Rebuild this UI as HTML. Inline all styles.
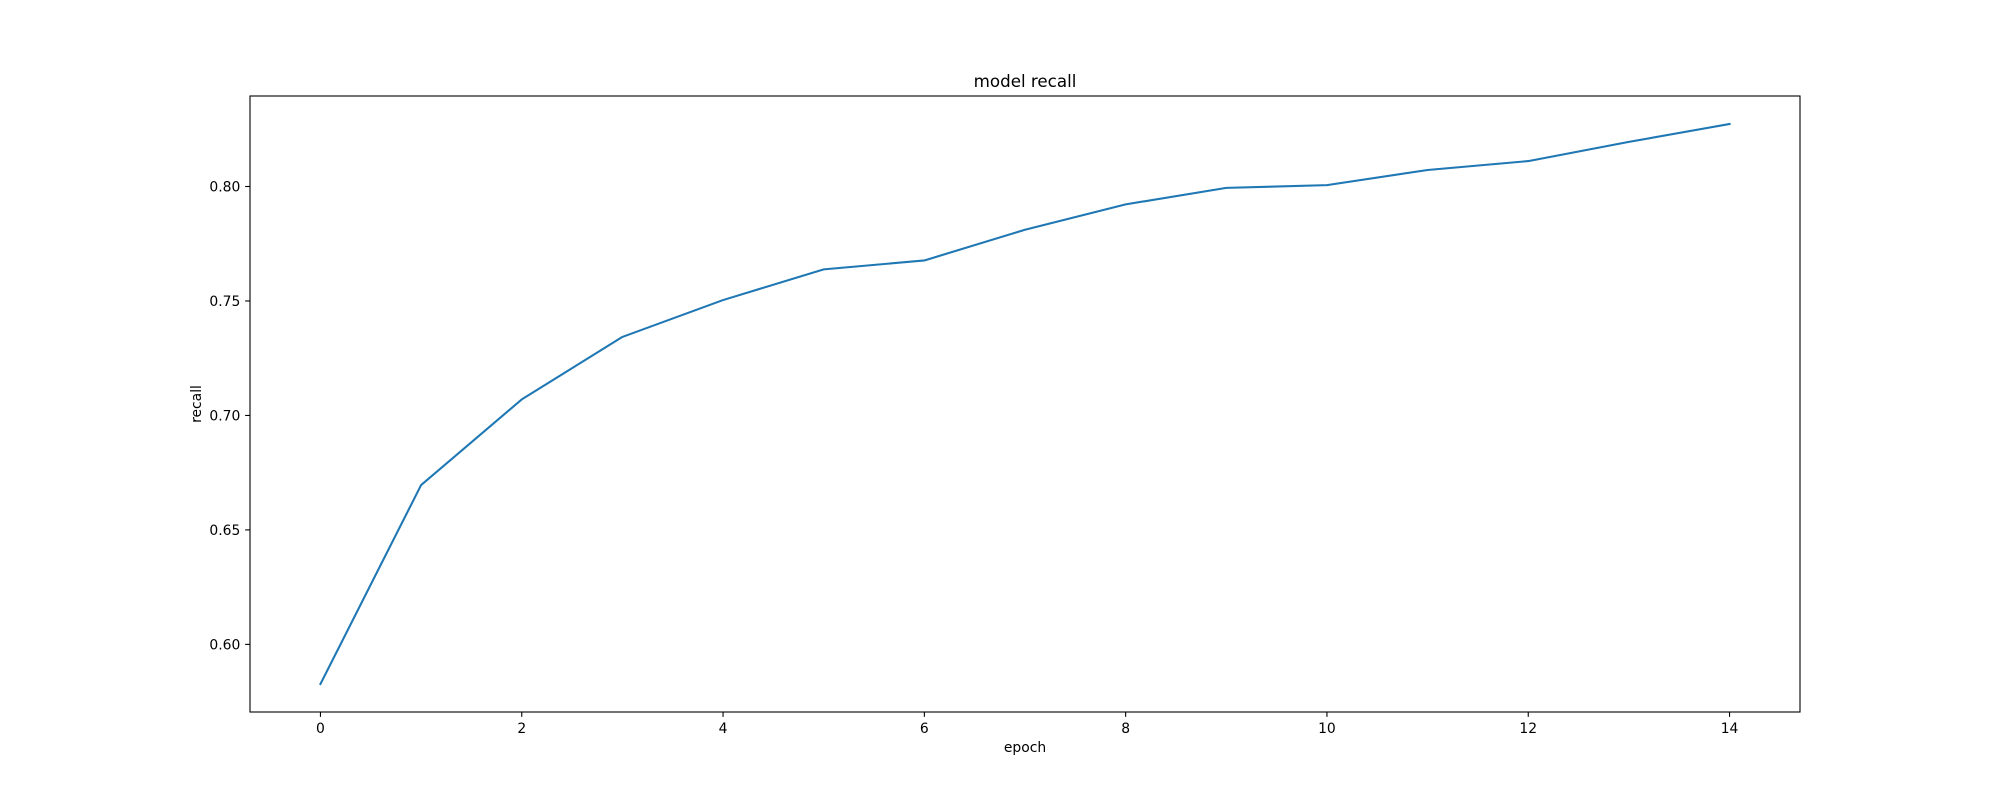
<!DOCTYPE html>
<html><head><meta charset="utf-8"><style>
html,body{margin:0;padding:0;background:#fff;}
svg{display:block;font-family:"DejaVu Sans","Liberation Sans",sans-serif;}
</style></head><body>
<svg id="chart" width="2000" height="800" viewBox="0 0 2000 800" xmlns="http://www.w3.org/2000/svg">
<rect width="2000" height="800" fill="#fff"/>
<text x="1025" y="87" font-size="16.7" text-anchor="middle">model recall</text>
<text x="1025" y="752" font-size="13.9" text-anchor="middle">epoch</text>
<text x="0" y="0" font-size="13.9" text-anchor="middle" transform="translate(201,404) rotate(-90)">recall</text>
<g id="plot"></g>
</svg>
<script>
const epochs = [0,1,2,3,4,5,6,7,8,9,10,11,12,13,14];
const recall = [0.5827,0.6696,0.7070,0.7343,0.7504,0.7638,0.7677,0.7811,0.7922,0.7994,0.8006,0.8072,0.8111,0.8195,0.8273];
const xTicks = [0,2,4,6,8,10,12,14];
const yTicks = [0.60,0.65,0.70,0.75,0.80];
const yTickLabels = ["0.60","0.65","0.70","0.75","0.80"];

const L=250,R=1800,T=96,B=712;
const xmin0=Math.min(...epochs),xmax0=Math.max(...epochs),xm=(xmax0-xmin0)*0.05;
const ymin0=Math.min(...recall),ymax0=Math.max(...recall),ym=(ymax0-ymin0)*0.05;
const xs=v=>L+(v-(xmin0-xm))/((xmax0+xm)-(xmin0-xm))*(R-L);
const ys=v=>B-(v-(ymin0-ym))/((ymax0+ym)-(ymin0-ym))*(B-T);
const NS="http://www.w3.org/2000/svg";
const g=document.getElementById('plot');
function mk(t,a){const e=document.createElementNS(NS,t);for(const k in a)e.setAttribute(k,a[k]);g.appendChild(e);return e;}

const line=mk('polyline',{points:epochs.map((e,i)=>xs(e)+','+ys(recall[i])).join(' '),fill:'none',stroke:'#1f77b4','stroke-width':2.08,'stroke-linejoin':'round','stroke-linecap':'square'});



xTicks.forEach(v=>{
  const x=xs(v);
  const t=mk('line',{x1:x,x2:x,y1:B,y2:B+4.86,stroke:'#000','stroke-width':1.1});
  
  
  const l=mk('text',{x:x,y:B+21,'font-size':13.9,'text-anchor':'middle'});
  l.textContent=String(v);
  
  
});
yTicks.forEach((v,i)=>{
  const y=ys(v);
  const t=mk('line',{x1:L-4.86,x2:L,y1:y,y2:y,stroke:'#000','stroke-width':1.1});
  
  
  const l=mk('text',{x:L-9.7,y:y+5,'font-size':13.9,'text-anchor':'end'});
  l.textContent=yTickLabels[i];
  
  
});
const fr=mk('rect',{x:L,y:T,width:R-L,height:B-T,fill:'none',stroke:'#000','stroke-width':1.1});


</script>
</body></html>
